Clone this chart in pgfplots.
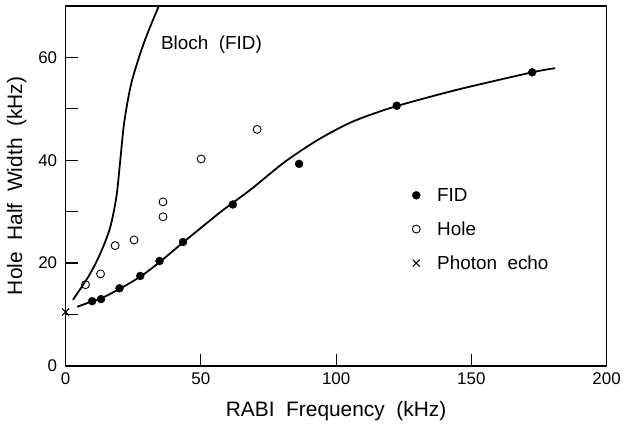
\documentclass[border=0pt]{standalone}
\usepackage{pgfplots}
\pgfplotsset{compat=1.18}
\usepackage{fontspec}
\setmainfont{Liberation Sans}
\begin{document}
\begin{tikzpicture}
\begin{axis}[
  scale only axis,
  width=544pt, height=362pt,
  xmin=0, xmax=200, ymin=0, ymax=70,
  xtick={0,50,100,150,200},
  ytick={0,20,40,60},
  minor ytick={10,30,50},
  tick pos=left,
  tick align=inside,
  major tick length=12pt,
  minor tick length=12pt,
  every tick/.style={black, line width=1.2pt},
  axis line style={line width=1.4pt},
  tick label style={font=\fontsize{17}{19}\selectfont},
  yticklabel style={xshift=-5pt},
  xticklabel style={yshift=-3pt},
  /pgf/number format/assume math mode=true,
  xlabel={RABI\ \ Frequency\ \ (kHz)},
  ylabel={Hole\ \ Half\ \ Width\ \ (kHz)},
  label style={font=\fontsize{21}{23}\selectfont},
  xlabel style={yshift=-10pt},
  ylabel style={yshift=5pt},
  clip=true,
  legend style={at={(axis cs:127.0,35.4)}, anchor=north west, draw=none, fill=none,
    font=\fontsize{19}{21}\selectfont, row sep=15pt,
    /tikz/every odd column/.append style={column sep=15pt}},
  legend cell align=left,
]
% FID fit curve
\addplot[black, line width=1.8pt, smooth, forget plot] coordinates {
(4.3,11.5) (10,12.6) (13,13.1) (20,15.0) (28,17.5) (35,20.3) (43.4,24.0)
(56.6,29.65) (61.5,31.6) (68.9,34.5) (81.1,39.7) (93.4,44.0) (105.6,47.4)
(117.9,49.8) (122.8,50.6) (133.8,52.2) (147,54.0) (172.5,57.1) (181,57.9)};
% Bloch curve
\addplot[black, line width=1.8pt, smooth, forget plot] coordinates {
(2.7,12.85) (8.8,17.7) (13.1,22.2) (16.5,27.0) (18.8,33.0) (20.2,40.0)
(21.7,47.5) (24.4,55.2) (29.0,62.9) (34.6,70.2) (36,72)};
% FID points
\addplot[only marks, mark=*, mark size=4pt, black] coordinates {
(9.8,12.6) (13.1,13.0) (19.9,15.1) (27.6,17.5) (34.7,20.4) (43.4,24.1)
(61.8,31.4) (86.3,39.3) (122.4,50.6) (172.5,57.1)};
\addlegendentry{FID}
% Hole points
\addplot[only marks, mark=o, mark size=4pt, black, mark options={line width=0.9pt, fill=white}] coordinates {
(7.35,15.8) (12.9,17.9) (18.3,23.4) (25.3,24.5) (36.0,29.0) (36.0,31.9)
(50.1,40.25) (70.8,46.0)};
\addlegendentry{Hole}
% Photon echo
\addplot[only marks, mark=x, mark size=5pt, black, mark options={line width=1.1pt}] coordinates {(0,10.5)};
\addlegendentry{Photon\ \ echo}
\node[anchor=west, font=\fontsize{19}{21}\selectfont] at (axis cs:34,62.5) {Bloch\ \ (FID)};
\end{axis}
\useasboundingbox ([xshift=-66pt,yshift=-59pt]current axis.south west) rectangle ([xshift=14pt,yshift=6pt]current axis.north east);
\end{tikzpicture}
\end{document}
